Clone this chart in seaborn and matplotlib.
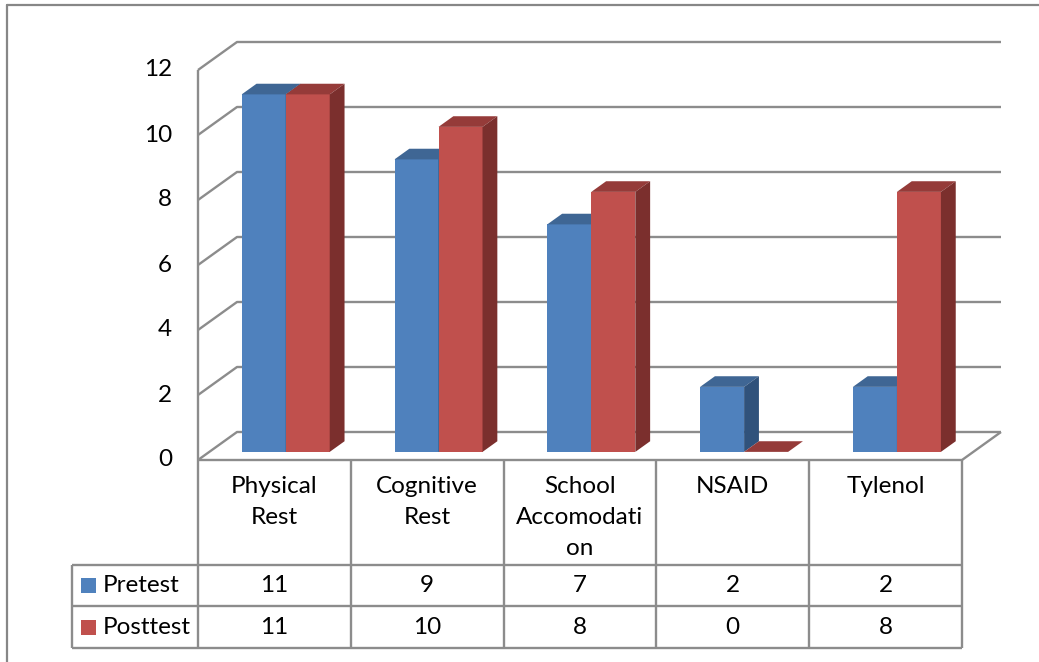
import numpy as np
import pandas as pd
import matplotlib
matplotlib.use("Agg")
import matplotlib.pyplot as plt
import seaborn as sns
from matplotlib.patches import Polygon, Rectangle

# ---- data -------------------------------------------------------------
categories = ["Physical\nRest", "Cognitive\nRest", "School\nAccomodati\non", "NSAID", "Tylenol"]
series = ["Pretest", "Posttest"]
pretest = [11, 9, 7, 2, 2]
posttest = [11, 10, 8, 0, 8]
y_ticks = [0, 2, 4, 6, 8, 10, 12]

front_colors = {"Pretest": "#4F81BD", "Posttest": "#C0504D"}
top_colors = {"Pretest": "#3F6694", "Posttest": "#953B39"}
side_colors = {"Pretest": "#30527B", "Posttest": "#7B2F2D"}
grid_color = "#8C8C8C"

df = pd.DataFrame({
    "category": categories * 2,
    "series": [series[0]] * len(pretest) + [series[1]] * len(posttest),
    "value": pretest + posttest,
})

sns.set_theme(style="white")
plt.rcParams["font.family"] = ["Lato", "DejaVu Sans"]
FS = 17.5

W, H, DPI = 1039, 662, 100
fig = plt.figure(figsize=(W / DPI, H / DPI), dpi=DPI)
fig.patch.set_facecolor("white")

# pixel-space overlay for the outer frame and the data table
ov = fig.add_axes([0, 0, 1, 1])
ov.set_xlim(0, W)
ov.set_ylim(H, 0)
ov.axis("off")

# front plane of the pseudo-3D plot area
x0, x1, y0, y1 = 198, 962, 460, 70
ax = fig.add_axes([x0 / W, 1 - y0 / H, (x1 - x0) / W, (y0 - y1) / H])
ax.set_facecolor("none")
sns.barplot(data=df, x="category", y="value", hue="series",
            order=categories, hue_order=series, palette=front_colors,
            width=0.576, saturation=1, errorbar=None, legend=False,
            linewidth=0, ax=ax)
ax.set_xlim(-0.5, len(categories) - 0.5)
ax.set_ylim(0, 12)
ax.axis("off")

px_x = (x1 - x0) / len(categories)   # pixels per category
px_y = (y0 - y1) / 12                # pixels per unit
DEPTH_X, DEPTH_Y = 39, 28            # receding offset of the back wall (px)
F1, F2 = 0.29, 0.67                  # bar front / back depth fractions


def depth(x, y, f):
    return (x + DEPTH_X * f / px_x, y + DEPTH_Y * f / px_y)


# walls and floor
gkw = dict(color=grid_color, lw=1.7, clip_on=False, zorder=1, solid_capstyle="butt")
xl, xr = -0.5, len(categories) - 0.5
for v in y_ticks:
    bx, by = depth(xl, v, 1)
    ex, ey = depth(xr, v, 1)
    ax.plot([xl, bx, ex], [v, by, ey], **gkw)
    ax.annotate(str(v), (xl, v), xytext=(-26, 0), textcoords="offset pixels",
                ha="right", va="center", fontsize=FS, color="black",
                annotation_clip=False)
ax.plot([xl, xl], [0, 12], **gkw)
rx, ry = depth(xr, 0, 1)
ax.plot([xl, xr, rx], [0, 0, ry], **gkw)

# extrude the bars
n = len(categories)
for i, p in enumerate(list(ax.patches)):
    s = series[i // n]
    z = 3 + i // n
    x, w, h = p.get_x(), p.get_width(), p.get_height()
    fx, fy = depth(x, 0, F1)
    p.set_x(fx)
    p.set_y(fy)
    p.set_zorder(z)
    p.set_clip_on(False)
    top = [depth(x, h, F1), depth(x + w, h, F1), depth(x + w, h, F2), depth(x, h, F2)]
    ax.add_patch(Polygon(top, closed=True, facecolor=top_colors[s], lw=0,
                         zorder=z, clip_on=False))
    if h > 0:
        side = [depth(x + w, 0, F1), depth(x + w, h, F1),
                depth(x + w, h, F2), depth(x + w, 0, F2)]
        ax.add_patch(Polygon(side, closed=True, facecolor=side_colors[s], lw=0,
                             zorder=z, clip_on=False))

# ---- data table -------------------------------------------------------
tkw = dict(color=grid_color, lw=1.7, solid_capstyle="butt")
col_x = [x0 + k * px_x for k in range(n + 1)]
legend_left = 72
row_y = [y0, 565, 606, 648]

for cx in col_x:
    ov.plot([cx, cx], [row_y[0], row_y[-1]], **tkw)
for ry_ in row_y[1:]:
    ov.plot([legend_left, col_x[-1]], [ry_, ry_], **tkw)
ov.plot([legend_left, legend_left], [row_y[1], row_y[-1]], **tkw)

for k, cat in enumerate(categories):
    cx = (col_x[k] + col_x[k + 1]) / 2
    ov.text(cx, 476, cat, ha="center", va="top", fontsize=FS,
            linespacing=1.6, color="black")

for r, (s, vals) in enumerate(zip(series, [pretest, posttest])):
    cy = (row_y[r + 1] + row_y[r + 2]) / 2
    ov.add_patch(Rectangle((81, cy - 7.5), 15, 15, facecolor=front_colors[s], lw=0))
    ov.text(103, cy, s, ha="left", va="center", fontsize=FS, color="black")
    for k, v in enumerate(vals):
        cx = (col_x[k] + col_x[k + 1]) / 2
        ov.text(cx, cy, str(v), ha="center", va="center", fontsize=FS, color="black")

# outer chart frame
fkw = dict(color="#878787", lw=1.6)
ov.plot([7, 7], [H, 5], **fkw)
ov.plot([7, W], [5, 5], **fkw)

fig.savefig("out.png", dpi=DPI, facecolor="white")
